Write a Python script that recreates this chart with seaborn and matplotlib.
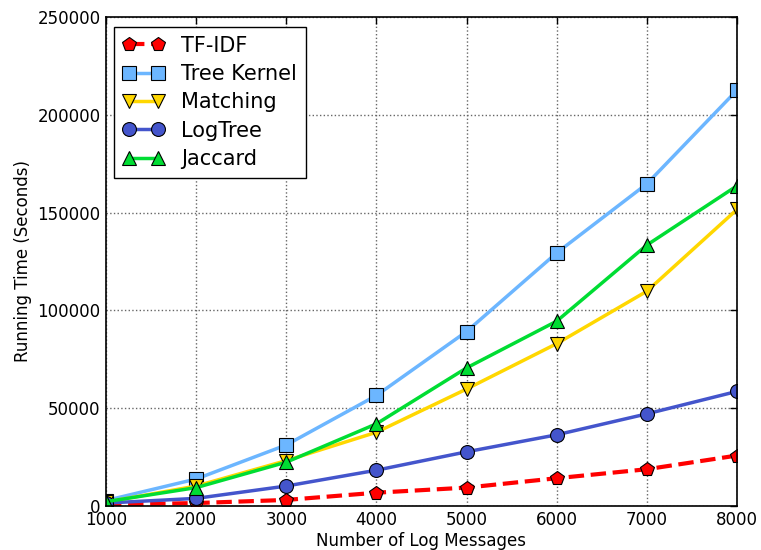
import matplotlib
matplotlib.use("Agg")
import matplotlib.pyplot as plt
import seaborn as sns
import pandas as pd

x_vals = [1000, 2000, 3000, 4000, 5000, 6000, 7000, 8000]
tfidf = [700, 1500, 3100, 6800, 9400, 14200, 18800, 25800]
tree_kernel = [2800, 13800, 31200, 56500, 89200, 129400, 164700, 212600]
matching = [2000, 10200, 23200, 37700, 59800, 83000, 109800, 151600]
logtree = [1500, 3900, 10200, 18300, 27700, 36400, 47100, 58600]
jaccard = [2200, 9400, 22400, 42000, 70600, 94500, 133400, 163700]

series_names = ["TF-IDF", "Tree Kernel", "Matching", "LogTree", "Jaccard"]
series_vals = [tfidf, tree_kernel, matching, logtree, jaccard]
colors = ["#ff0000", "#6cb6ff", "#ffd700", "#4455cc", "#00dd33"]
markers = ["p", "s", "v", "o", "^"]
styles = ["--", "-", "-", "-", "-"]
widths = [3.0, 2.5, 2.5, 2.5, 2.5]

sns.set_style("white")
plt.rcParams['font.family'] = ['DejaVu Sans']
plt.rcParams['text.color'] = 'black'
plt.rcParams['axes.labelcolor'] = 'black'
plt.rcParams['xtick.color'] = 'black'
plt.rcParams['ytick.color'] = 'black'

W, H = 761, 550
fig = plt.figure(figsize=(W / 100, H / 100), dpi=100)
L, T, R, B = 106, 17, 737, 506
ax = fig.add_axes([L / W, 1 - B / H, (R - L) / W, (B - T) / H])

for name, vals, c, m, ls, lw in zip(series_names, series_vals, colors, markers, styles, widths):
    df = pd.DataFrame({"x": x_vals, "y": vals})
    sns.lineplot(data=df, x="x", y="y", ax=ax, color=c, marker=m, linestyle=ls,
                 linewidth=lw, markersize=10, markeredgecolor="black",
                 markeredgewidth=0.8, label=name, markerfacecolor=c)

ax.set_xlim(1000, 8000)
ax.set_ylim(0, 250000)
ax.set_xticks(x_vals)
ax.set_yticks([0, 50000, 100000, 150000, 200000, 250000])
ax.set_xlabel("Number of Log Messages", fontsize=12, labelpad=2)
ax.set_ylabel("Running Time (Seconds)", fontsize=12, labelpad=4)
ax.tick_params(direction="in", length=5, width=1, labelsize=12, top=True, right=True)
ax.tick_params(axis="x", pad=3.5)
ax.tick_params(axis="y", pad=4)
ax.grid(True, linestyle=":", color="#666666", linewidth=1.0)
ax.set_axisbelow(True)
for s in ax.spines.values():
    s.set_color("black")
    s.set_linewidth(1.2)

fs = 15
leg = ax.legend(loc="upper left", numpoints=2, prop={"size": fs}, frameon=True,
                fancybox=False, borderpad=0.42, handlelength=2.0, handletextpad=0.8,
                labelspacing=0.4, borderaxespad=0,
                bbox_to_anchor=((114 - L) / (R - L), 1 - (27 - T) / (B - T)))
leg.get_frame().set_edgecolor("black")
leg.get_frame().set_linewidth(1.0)
leg.get_frame().set_alpha(1)

fig.savefig("out.png", dpi=100)
